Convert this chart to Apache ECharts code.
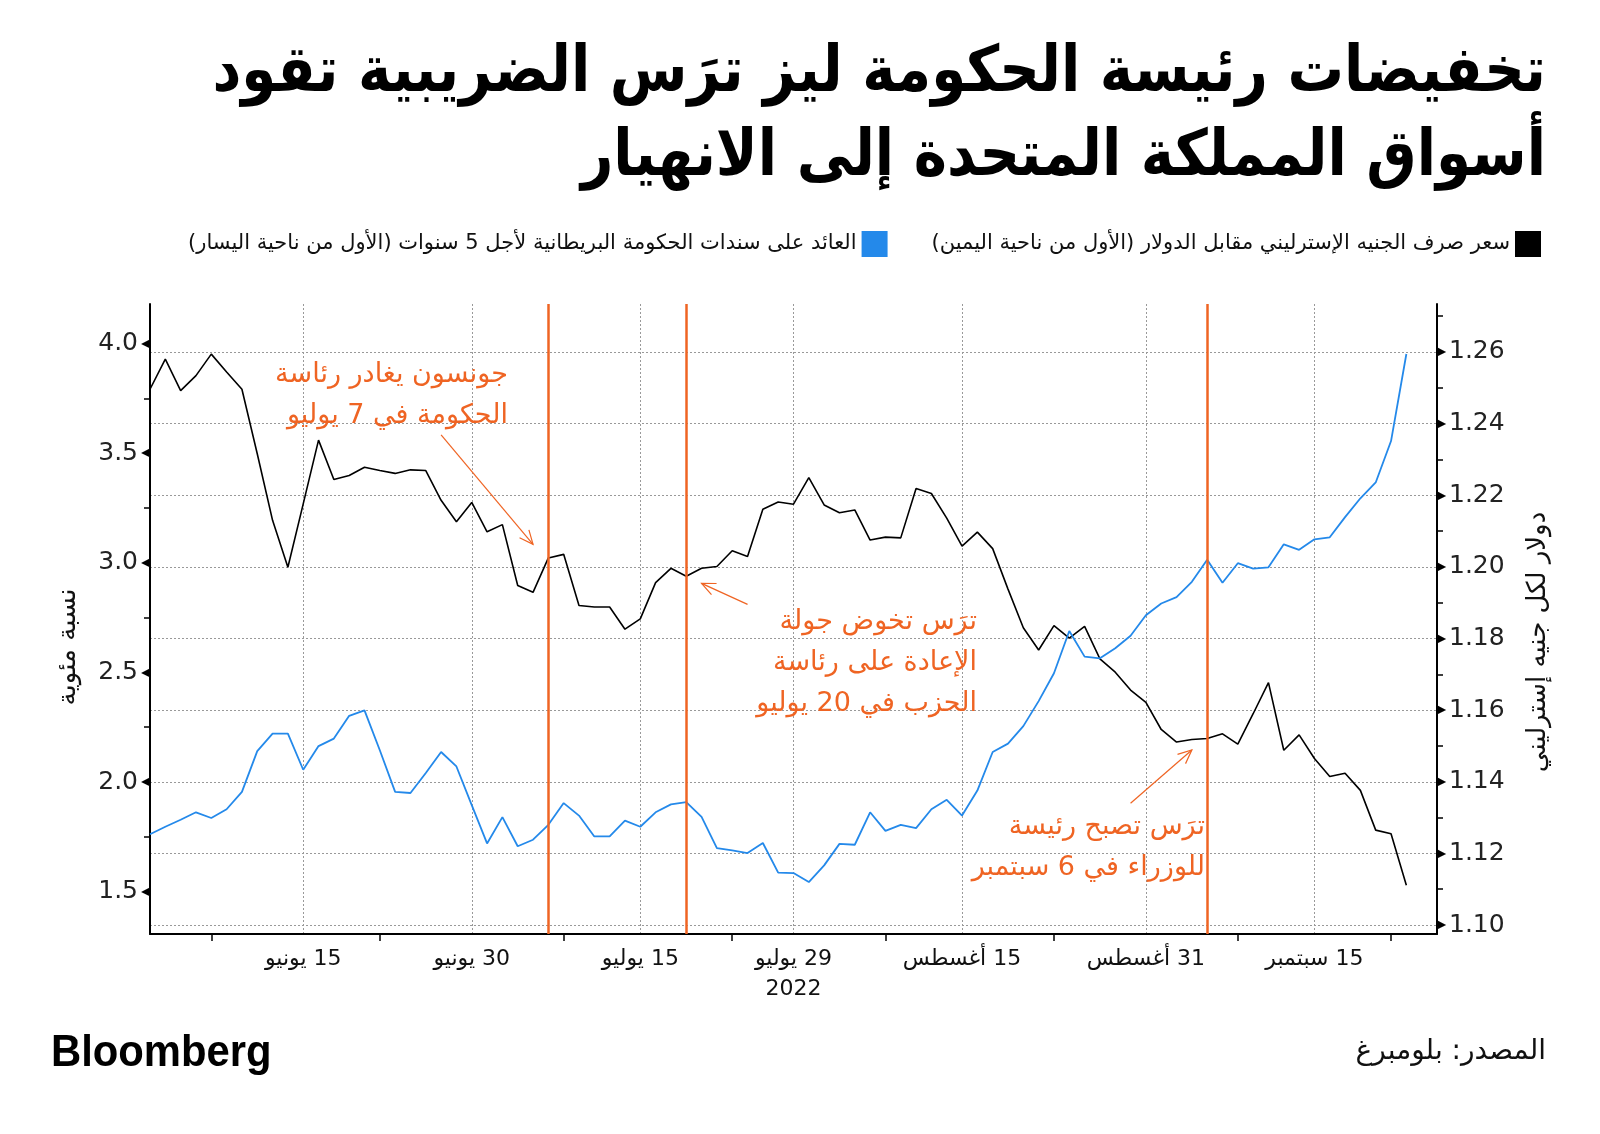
<!DOCTYPE html>
<html><head><meta charset="utf-8">
<script src="https://cdn.jsdelivr.net/npm/echarts@6/dist/echarts.min.js"></script>
<style>html,body{margin:0;padding:0;background:#fff}#c{width:1600px;height:1134px;direction:rtl}</style>
</head><body><div id="c"></div>
<script>
// ---- data ----
const dates = [
 '06-01','06-02','06-03','06-06','06-07','06-08','06-09','06-10','06-13','06-14','06-15','06-16','06-17','06-20','06-21','06-22','06-23','06-24','06-27','06-28','06-29','06-30',
 '07-01','07-04','07-05','07-06','07-07','07-08','07-11','07-12','07-13','07-14','07-15','07-18','07-19','07-20','07-21','07-22','07-25','07-26','07-27','07-28','07-29',
 '08-01','08-02','08-03','08-04','08-05','08-08','08-09','08-10','08-11','08-12','08-15','08-16','08-17','08-18','08-19','08-22','08-23','08-24','08-25','08-26','08-29','08-30','08-31',
 '09-01','09-02','09-05','09-06','09-07','09-08','09-09','09-12','09-13','09-14','09-15','09-16','09-19','09-20','09-21','09-22','09-23','09-26','09-27'
];
const tickDates = ['06-15','06-30','07-15','07-29','08-15','08-31','09-15'];
const tickLabels = ['15 يونيو','30 يونيو','15 يوليو','29 يوليو\n2022','15 أغسطس','31 أغسطس','15 سبتمبر'];
const minorTickDates = ['06-07','06-22','07-08','07-25','08-08','08-23','09-08','09-22'];

const gbpUsd = [
 1.2496,1.2580,1.2492,1.2534,1.2594,1.2544,1.2496,1.2316,1.2130,1.1999,
 1.2176,1.2354,1.2244,1.2255,1.2278,1.2269,1.2261,1.2271,1.2269,1.2186,
 1.2126,1.2180,1.2098,1.2118,1.1948,1.1929,1.2025,1.2035,1.1892,1.1888,
 1.1888,1.1826,1.1855,1.1956,1.1996,1.1974,1.1996,1.2001,1.2045,1.2029,
 1.2161,1.2181,1.2175,1.2249,1.2173,1.2151,1.2159,1.2075,1.2083,1.2081,
 1.2219,1.2205,1.2136,1.2058,1.2097,1.2051,1.1938,1.1830,1.1768,1.1836,
 1.1801,1.1834,1.1743,1.1706,1.1656,1.1622,1.1546,1.1511,1.1518,1.1521,
 1.1534,1.1505,1.1590,1.1677,1.1488,1.1531,1.1465,1.1415,1.1424,1.1376,
 1.1265,1.1255,1.1111
];
const gilt5y = [
 1.762,1.796,1.828,1.862,1.836,1.876,1.955,2.141,2.221,2.221,
 2.056,2.164,2.198,2.302,2.327,2.145,1.955,1.950,2.041,2.137,
 2.071,1.895,1.720,1.840,1.707,1.737,1.805,1.904,1.847,1.752,
 1.752,1.824,1.796,1.862,1.898,1.908,1.841,1.699,1.688,1.676,
 1.722,1.587,1.585,1.544,1.620,1.718,1.714,1.862,1.777,1.805,
 1.790,1.876,1.919,1.847,1.961,2.137,2.175,2.255,2.369,2.496,
 2.689,2.572,2.564,2.610,2.667,2.761,2.814,2.843,2.913,3.014,
 2.909,2.998,2.973,2.979,3.084,3.059,3.107,3.116,3.208,3.294,
 3.366,3.555,3.952
];
const eventDates = ['07-07','07-20','09-06'];
const leftLabels = [1.5,2.0,2.5,3.0,3.5,4.0];
const leftTicks = [1.5,1.75,2.0,2.25,2.5,2.75,3.0,3.25,3.5,3.75,4.0];
const rightLabels = [1.10,1.12,1.14,1.16,1.18,1.20,1.22,1.24,1.26];
const rightMinorTicks = [1.11,1.13,1.15,1.17,1.19,1.21,1.23,1.25,1.27];

const gbpName = 'سعر صرف الجنيه الإسترليني مقابل الدولار (الأول من ناحية اليمين)';
const giltName = 'العائد على سندات الحكومة البريطانية لأجل 5 سنوات (الأول من ناحية اليسار)';
const titleLines = ['تخفيضات رئيسة الحكومة ليز ترَس الضريبية تقود','أسواق المملكة المتحدة إلى الانهيار'];
const leftAxisName = 'نسبة مئوية';
const rightAxisName = 'دولار لكل جنيه إسترليني';
// annotations: text (right edge x, first-line centre y) + arrow [fromIndex, fromValue(left axis), toIndex, toValue]
const notes = [
 {text:'جونسون يغادر رئاسة\nالحكومة في 7 يوليو', x:508, y:375, arrow:[19.05,3.583,25.18,3.084]},
 {text:'ترَس تخوض جولة\nالإعادة على رئاسة\nالحزب في 20 يوليو', x:977, y:622, arrow:[38.8,2.810,36.0,2.906]},
 {text:'ترَس تصبح رئيسة\nللوزراء في 6 سبتمبر', x:1205, y:827, arrow:[64.0,1.903,68.04,2.146]}
];

// ---- chart ----
const ORANGE = '#EF6423';
const BLUE = '#2489EA';
const FONT = 'DejaVu Sans';
const labelIdx = new Set(tickDates.map(d => dates.indexOf(d)));
const minorIdx = new Set(minorTickDates.map(d => dates.indexOf(d)));
const labelMap = {}; tickDates.forEach((d, i) => labelMap[d] = tickLabels[i]);

const chart = echarts.init(document.getElementById('c'), null, {renderer: 'canvas'});
const option = {
  animation: false,
  backgroundColor: '#fff',
  grid: {left: 150, right: 163, top: 304, bottom: 200},
  legend: {
    right: 54, top: 226, align: 'right', icon: 'rect', itemWidth: 26, itemHeight: 26, itemGap: 44,
    data: [giltName, gbpName],
    textStyle: {fontFamily: FONT, fontSize: 21, color: '#111'}
  },
  xAxis: {
    type: 'category', data: dates, boundaryGap: false,
    axisLine: {lineStyle: {color: '#000', width: 2}},
    axisTick: {interval: (i) => minorIdx.has(i), length: 7, lineStyle: {color: '#000', width: 1.5}},
    axisLabel: {interval: (i) => labelIdx.has(i), formatter: (v) => labelMap[v] || '',
      fontFamily: FONT, fontSize: 22, color: '#111', margin: 10, lineHeight: 30},
    splitLine: {show: true, interval: (i) => labelIdx.has(i), lineStyle: {type: [2, 2], color: '#999', width: 1}}
  },
  yAxis: [
    {type: 'value', position: 'left', min: 1.307, max: 4.18,
     axisLine: {show: true, lineStyle: {color: '#000', width: 2}},
     axisTick: {show: true, customValues: leftTicks, length: 6, lineStyle: {color: '#000', width: 1.5}},
     axisLabel: {customValues: leftLabels, margin: 0,
       formatter: (v) => '{n|' + v.toFixed(1) + '}{t|◀}',
       rich: {n: {fontFamily: FONT, fontSize: 25, color: '#222', padding: [0, 3, 0, 0]}, t: {fontSize: 12, color: '#000'}}},
     splitLine: {show: false}},
    {type: 'value', position: 'right', min: 1.0975, max: 1.2734,
     axisLine: {show: true, lineStyle: {color: '#000', width: 2}},
     axisTick: {show: true, customValues: rightLabels, length: 6, lineStyle: {color: '#000', width: 1.5}},
     axisLabel: {customValues: rightLabels, margin: 0,
       formatter: (v) => '{t|▶}{n|' + v.toFixed(2) + '}',
       rich: {n: {fontFamily: FONT, fontSize: 25, color: '#222', padding: [0, 0, 0, 3]}, t: {fontSize: 12, color: '#000'}}},
     splitLine: {show: true, lineStyle: {type: [2, 2], color: '#999', width: 1}}},
    {type: 'value', position: 'right', min: 1.0975, max: 1.2734,
     axisLine: {show: false},
     axisTick: {show: true, customValues: rightMinorTicks, length: 6, lineStyle: {color: '#000', width: 1.5}},
     axisLabel: {show: false}, splitLine: {show: false}}
  ],
  series: [
    {name: gbpName, type: 'line', yAxisIndex: 1, data: gbpUsd, showSymbol: false,
     color: '#000', lineStyle: {color: '#000', width: 1.6},
     markLine: {silent: true, symbol: 'none', label: {show: false},
       lineStyle: {color: ORANGE, width: 2.5, type: 'solid'},
       data: eventDates.map(d => ({xAxis: d}))}},
    {name: giltName, type: 'line', yAxisIndex: 0, data: gilt5y, showSymbol: false,
     color: BLUE, lineStyle: {color: BLUE, width: 1.8}}
  ]
};
chart.setOption(option);

// ---- text & annotations ----
const g = [];
g.push({type: 'text', x: 1546, y: 74, scaleX: 0.88,
  style: {text: titleLines[0], font: 'bold 64px "DejaVu Sans"', fill: '#000', align: 'right', verticalAlign: 'middle'}});
g.push({type: 'text', x: 1546, y: 158, scaleX: 0.88,
  style: {text: titleLines[1], font: 'bold 64px "DejaVu Sans"', fill: '#000', align: 'right', verticalAlign: 'middle'}});
g.push({type: 'text', x: 68, y: 647, rotation: Math.PI / 2,
  style: {text: leftAxisName, font: '26px "DejaVu Sans"', fill: '#111', align: 'center', verticalAlign: 'middle'}});
g.push({type: 'text', x: 1538, y: 642, rotation: Math.PI / 2,
  style: {text: rightAxisName, font: '26px "DejaVu Sans"', fill: '#111', align: 'center', verticalAlign: 'middle'}});
g.push({type: 'text', x: 51, y: 1054, scaleX: 0.95,
  style: {text: 'Bloomberg', font: 'bold 44px "Liberation Sans"', fill: '#000', align: 'left', verticalAlign: 'middle'}});
g.push({type: 'text', x: 1546, y: 1052,
  style: {text: 'المصدر: بلومبرغ', font: '28px "DejaVu Sans"', fill: '#111', align: 'right', verticalAlign: 'middle'}});

const LH = 41;
notes.forEach(n => {
  const lines = n.text.split('\n').length;
  g.push({type: 'text', x: n.x, y: n.y - LH / 2,
    style: {text: n.text, font: '27px "DejaVu Sans"', fill: ORANGE, align: 'right', verticalAlign: 'top', lineHeight: LH}});
  const a = n.arrow;
  const p1 = chart.convertToPixel({xAxisIndex: 0, yAxisIndex: 0}, [a[0], a[1]]);
  const p2 = chart.convertToPixel({xAxisIndex: 0, yAxisIndex: 0}, [a[2], a[3]]);
  const ang = Math.atan2(p2[1] - p1[1], p2[0] - p1[0]);
  const L = 15, w = 0.42;
  const h1 = [p2[0] - L * Math.cos(ang - w), p2[1] - L * Math.sin(ang - w)];
  const h2 = [p2[0] - L * Math.cos(ang + w), p2[1] - L * Math.sin(ang + w)];
  g.push({type: 'line', shape: {x1: p1[0], y1: p1[1], x2: p2[0], y2: p2[1]}, style: {stroke: ORANGE, lineWidth: 1.2}});
  g.push({type: 'polyline', shape: {points: [h1, p2, h2]}, style: {stroke: ORANGE, lineWidth: 1.2, fill: null}});
});
chart.setOption({graphic: g});
</script></body></html>
